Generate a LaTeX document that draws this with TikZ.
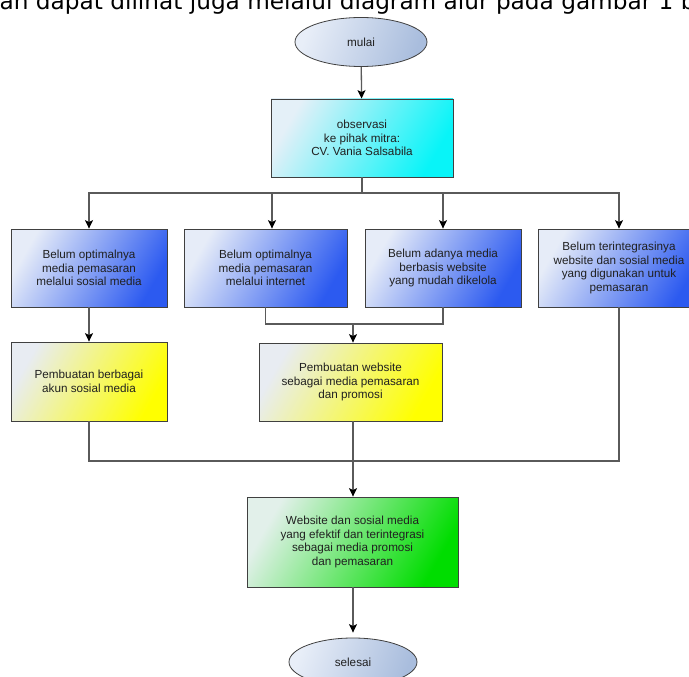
\documentclass[tikz,border=0pt]{standalone}
\usepackage{fontspec}
\setmainfont{Liberation Sans}
\newfontfamily\dejavu{DejaVu Sans}
\usetikzlibrary{shapes.geometric,arrows.meta,calc}
\definecolor{bordergray}{HTML}{404040}
\definecolor{linegray}{HTML}{5A5A5A}
\definecolor{txt}{HTML}{202020}
\definecolor{bluelight}{HTML}{E6ECF8}
\definecolor{bluedark}{HTML}{2C5AF0}
\definecolor{cyanlight}{HTML}{E4F0F8}
\definecolor{cyandark}{HTML}{08F4F8}
\definecolor{yellight}{HTML}{E8ECF2}
\definecolor{yeldark}{HTML}{FFFF00}
\definecolor{grnlight}{HTML}{E2F0EA}
\definecolor{grndark}{HTML}{00DD00}
\definecolor{elllight}{HTML}{E8EEF8}
\definecolor{elldark}{HTML}{A9BDDD}
\tikzset{
  boxbase/.style={draw=bordergray, line width=0.8pt, rectangle, inner sep=0pt,
    align=center, text=txt, font=\fontsize{11.7}{13.5}\selectfont},
  bluebox/.style={boxbase, left color=bluelight, right color=bluedark, shading angle=60},
  cyanbox/.style={boxbase, left color=cyanlight, right color=cyandark, shading angle=60},
  yelbox/.style={boxbase, left color=yellight, right color=yeldark, shading angle=60},
  grnbox/.style={boxbase, left color=grnlight, right color=grndark, shading angle=60},
  term/.style={ellipse, draw=bordergray, line width=0.8pt, inner sep=0pt, text=txt,
    font=\fontsize{11.7}{13.5}\selectfont, left color=elllight, right color=elldark, shading angle=70},
  ln/.style={draw=linegray, line width=1.3pt},
  arr/.style={ln, -{Stealth[length=8.5pt,width=8pt,inset=2pt,color=black]}},
}
\begin{document}
\begin{tikzpicture}[x=1pt,y=-1pt]
\clip (0,0) rectangle (689,677);
\fill[white] (0,0) rectangle (689,677);

\node[anchor=base west, inner sep=0pt, font=\dejavu\fontsize{23.2}{26}\selectfont, text=black]
  (top) at (-0.5,10) {an dapat dilihat juga melalui diagram alur pada gambar 1 b};

\node[term, minimum width=132pt, minimum height=49pt] (mulai) at (361,42) {mulai};
\node[cyanbox, minimum width=182pt, minimum height=78pt] (obs) at (362,138)
  {observasi\\ke pihak mitra:\\CV. Vania Salsabila};

\node[bluebox, minimum width=156pt, minimum height=78pt] (b1) at (89,268)
  {Belum optimalnya\\media pemasaran\\melalui sosial media};
\node[bluebox, minimum width=163pt, minimum height=78pt] (b2) at (265.5,268)
  {Belum optimalnya\\media pemasaran\\melalui internet};
\node[bluebox, minimum width=156pt, minimum height=78pt] (b3) at (443,268)
  {Belum adanya media\\berbasis website\\yang mudah dikelola};
\node[bluebox, minimum width=162pt, minimum height=78pt] (b4) at (619,268)
  {Belum terintegrasinya\\website dan sosial media\\yang digunakan untuk\\pemasaran};

\node[yelbox, minimum width=156pt, minimum height=79pt] (c1) at (89,381.5)
  {Pembuatan berbagai\\akun sosial media};
\node[yelbox, minimum width=183pt, minimum height=78pt] (c2) at (350.5,382)
  {Pembuatan website\\sebagai media pemasaran\\dan promosi};

\node[grnbox, minimum width=211pt, minimum height=90pt] (d) at (352.5,542)
  {Website dan sosial media\\yang efektif dan terintegrasi\\sebagai media promosi\\dan pemasaran};

\node[term, minimum width=128pt, minimum height=48pt] (selesai) at (353,662) {selesai};

% connectors
\draw[arr] (mulai) -- (obs);
\coordinate (j1) at (362,193);
\draw[ln] (obs.south) -- (j1);
\draw[arr] (j1) -| (b1.north);
\draw[arr] (j1) -| ([xshift=6.5pt]b2.north);
\draw[arr] (j1) -| (b3.north);
\draw[arr] (j1) -| (b4.north);

\draw[arr] (b1) -- (c1);

\coordinate (j2) at (353,324);
\draw[ln] (b2.south) |- (j2);
\draw[ln] (b3.south) |- (j2);
\draw[arr] (j2) -- (j2 |- c2.north);

\coordinate (j3) at (353,461);
\draw[ln] (c1.south) |- (j3);
\draw[ln] (j3 |- c2.south) -- (j3);
\draw[ln] (b4.south) |- (j3);
\draw[arr] (j3) -- (j3 |- d.north);

\draw[arr, shorten >=5pt] (j3 |- d.south) -- (selesai);
\end{tikzpicture}
\end{document}
